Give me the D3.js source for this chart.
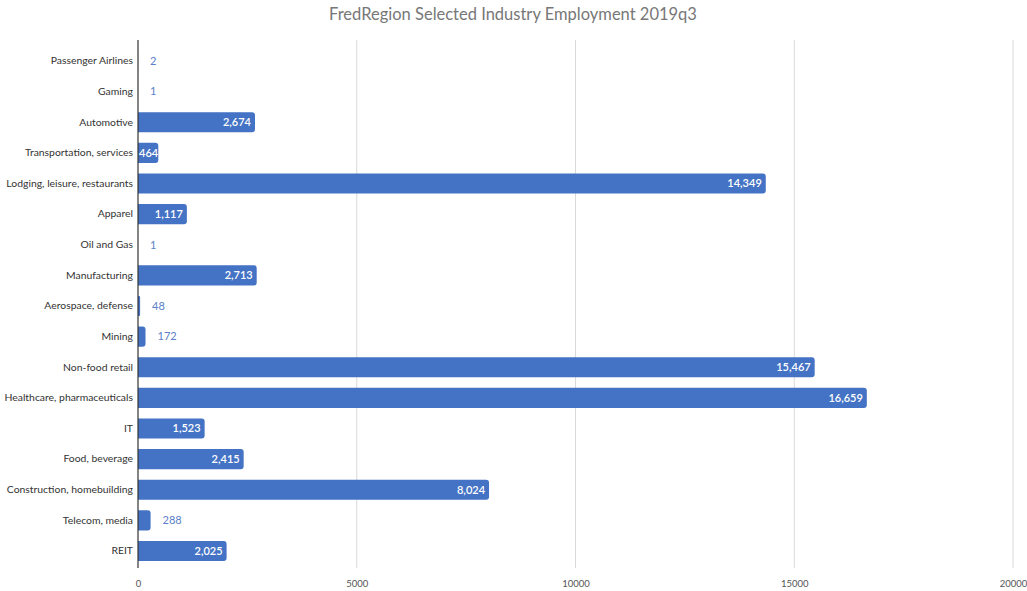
<!DOCTYPE html>
<html><head><meta charset="utf-8">
<script src="https://cdn.jsdelivr.net/npm/d3@7"></script>
<style>body{margin:0;background:#fff}svg{display:block}text{font-family:Lato,"Open Sans",sans-serif}</style>
</head><body><svg id="c" width="1027" height="591"></svg>
<script>
const categories = ["Passenger Airlines","Gaming","Automotive","Transportation, services","Lodging, leisure, restaurants","Apparel","Oil and Gas","Manufacturing","Aerospace, defense","Mining","Non-food retail","Healthcare, pharmaceuticals","IT","Food, beverage","Construction, homebuilding","Telecom, media","REIT"];
const values = [2,1,2674,464,14349,1117,1,2713,48,172,15467,16659,1523,2415,8024,288,2025];
const xTicks = [0,5000,10000,15000,20000];
const title = "FredRegion Selected Industry Employment 2019q3";

const svg = d3.select("#c");
const L = 138, R = 1013, T = 45.7, B = 566.3;
const x = d3.scaleLinear().domain([0,20000]).range([L,R]);
const y = d3.scaleBand().domain(categories).range([T,B]).paddingInner(0.34).paddingOuter(0.17);
const fmt = d3.format(",");

svg.append("text").attr("x",513).attr("y",20).attr("text-anchor","middle")
  .attr("font-size",16.5).attr("fill","#777").text(title);

// grid
svg.append("g").selectAll("line").data(xTicks.slice(1)).join("line")
  .attr("x1",d=>x(d)).attr("x2",d=>x(d)).attr("y1",40).attr("y2",568)
  .attr("stroke","#d9d9d9").attr("stroke-width",1);

// x tick labels
const xa = svg.append("g").attr("transform",`translate(0,${B})`)
  .call(d3.axisBottom(x).tickValues(xTicks).tickFormat(d3.format("d")).tickSize(0).tickPadding(14));
xa.select(".domain").remove();
xa.selectAll("text").attr("font-size",9.5).attr("fill","#555").style("font-family","Lato,sans-serif");

// bars
const bw = y.bandwidth();
svg.append("g").selectAll("path").data(values).join("path")
  .attr("fill","#4472C4")
  .attr("d",(d,i)=>{
    const x0 = x(0), x1 = x(d), yy = y(categories[i]), w = x1-x0;
    const r = Math.min(3, w/2);
    return `M${x0},${yy}H${x1-r}Q${x1},${yy} ${x1},${yy+r}V${yy+bw-r}Q${x1},${yy+bw} ${x1-r},${yy+bw}H${x0}Z`;
  });

// y axis labels
const ya = svg.append("g").attr("transform",`translate(${L},0)`)
  .call(d3.axisLeft(y).tickSize(0).tickPadding(5));
ya.select(".domain").remove();
ya.selectAll("text").attr("font-size",10.4).attr("fill","#333").style("font-family","Lato,sans-serif");

// axis line
svg.append("line").attr("x1",L).attr("x2",L).attr("y1",40).attr("y2",568)
  .attr("stroke","#333").attr("stroke-width",1.2);

// value labels
const lg = svg.append("g");
values.forEach((d,i)=>{
  const t = lg.append("text").attr("y",y(categories[i])+bw/2).attr("dy","0.35em")
    .attr("font-size",11).text(fmt(d));
  const w = x(d)-x(0);
  t.attr("font-weight",600);
  const tw = t.node().getComputedTextLength();
  if (w >= tw) {
    t.attr("x",Math.max(x(d)-4, x(0)+1+tw)).attr("text-anchor","end").attr("fill","#fff");
  } else {
    t.attr("font-weight",400).attr("x",x(d)+12).attr("text-anchor","start").attr("fill","#5b80c8");
  }
});
</script></body></html>
